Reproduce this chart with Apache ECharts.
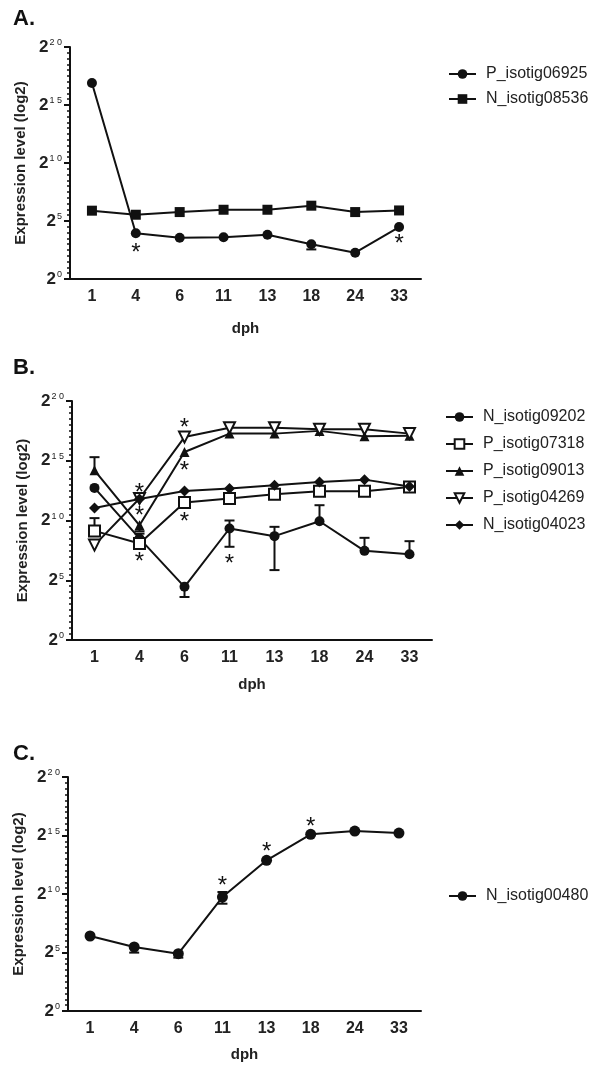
<!DOCTYPE html>
<html>
<head>
<meta charset="utf-8">
<script src="https://cdn.jsdelivr.net/npm/echarts@6/dist/echarts.min.js"></script>
<style>
  html, body { margin: 0; padding: 0; background: #fff; }
  #chart { width: 600px; height: 1073px; }
</style>
</head>
<body>
<div id="chart"></div>
<script>
// x categories (days post hatch) and y ticks (log2 exponents)
const days = ['1', '4', '6', '11', '13', '18', '24', '33'];
const yMin = 0, yMax = 20, yStep = 5;

// panel A
const pIsotig06925 = [16.9, 3.94, 3.56, 3.6, 3.82, 2.99, 2.27, 4.48];
const nIsotig08536 = [5.89, 5.54, 5.77, 5.97, 5.97, 6.32, 5.77, 5.91];
const errA = [[5, 2.99, 2.55]];           // [day index, mean, bar end]
const starsA = [[1, 2.7], [7, 3.5]];

// panel B
const nIsotig09202 = [12.73, 8.5, 4.45, 9.33, 8.69, 9.94, 7.46, 7.18];
const pIsotig07318 = [9.13, 8.07, 11.5, 11.84, 12.2, 12.45, 12.45, 12.81];
const pIsotig09013 = [14.2, 9.6, 15.73, 17.27, 17.27, 17.5, 17.04, 17.1];
const pIsotig04269 = [7.94, 11.84, 16.98, 17.77, 17.77, 17.63, 17.63, 17.27];
const nIsotig04023 = [11.05, 11.8, 12.47, 12.67, 12.95, 13.23, 13.42, 12.85];
const errB = [
  [0, 14.2, 15.3], [0, 9.13, 10.2], [1, 9.6, 9.1], [1, 8.5, 8.9],
  [2, 4.45, 3.6], [3, 9.33, 10.0], [3, 9.33, 7.8], [4, 8.69, 9.47],
  [4, 8.69, 5.85], [5, 9.94, 11.28], [6, 7.46, 8.55], [7, 7.18, 8.27]
];
const starsB = [[1, 12.8], [1, 10.86], [1, 6.96], [2, 18.24], [2, 14.62], [2, 10.36], [3, 6.83]];

// panel C
const nIsotig00480 = [6.41, 5.47, 4.9, 9.74, 12.88, 15.1, 15.38, 15.21];
const errC = [[1, 5.47, 4.99], [2, 4.9, 4.56], [3, 9.74, 10.17], [3, 9.74, 9.17]];
const starsC = [[3, 11.17], [4, 14.08], [5, 16.24]];

const FONT = 'Liberation Sans, Arial, sans-serif';

const grids = [
  { left: 70, top: 47, width: 351, height: 232 },
  { left: 72, top: 401, width: 360, height: 239 },
  { left: 68, top: 777, width: 353, height: 234 }
];

function xAxisFor(i, gap) {
  return {
    type: 'category', gridIndex: i, data: days, boundaryGap: true,
    name: 'dph', nameLocation: 'middle', nameGap: gap,
    nameTextStyle: { fontFamily: FONT, fontSize: 15, fontWeight: 'bold', color: '#222' },
    axisLine: { lineStyle: { color: '#111', width: 2 } },
    axisTick: { alignWithLabel: true, length: 5, lineStyle: { color: '#111', width: 2 } },
    axisLabel: { margin: 10, fontFamily: FONT, fontSize: 16, fontWeight: 'bold', color: '#222' }
  };
}

function yAxisFor(i) {
  return {
    type: 'value', gridIndex: i, min: yMin, max: yMax, interval: yStep,
    name: 'Expression level (log2)', nameLocation: 'middle', nameGap: 40,
    nameTextStyle: { fontFamily: FONT, fontSize: 15, fontWeight: 'bold', color: '#222' },
    axisLine: { show: true, lineStyle: { color: '#111', width: 2 } },
    axisTick: { show: true, length: 6, lineStyle: { color: '#111', width: 2 } },
    minorTick: { show: true, splitNumber: 10, length: 3, lineStyle: { color: '#111', width: 1.5 } },
    splitLine: { show: false },
    axisLabel: {
      margin: 8,
      formatter: v => '{b|2}{s|' + String(v).split('').join(' ') + '}',
      rich: {
        b: { fontFamily: FONT, fontSize: 17, fontWeight: 'bold', color: '#222' },
        s: { fontFamily: FONT, fontSize: 9, color: '#222', verticalAlign: 'top', padding: [0, 0, 8, 1] }
      }
    }
  };
}

function lineSeries(name, data, i, symbol, opts) {
  const o = opts || {};
  return {
    name: name, type: 'line', xAxisIndex: i, yAxisIndex: i, data: data,
    symbol: symbol, symbolSize: o.size || 10, symbolRotate: o.rotate || 0,
    lineStyle: { color: '#111', width: 2 },
    itemStyle: o.open
      ? { color: '#fff', borderColor: '#111', borderWidth: 2 }
      : { color: '#111', borderColor: '#111', borderWidth: 0 },
    z: 3, emphasis: { disabled: true }
  };
}

function errorSeries(data, i) {
  return {
    type: 'custom', xAxisIndex: i, yAxisIndex: i, data: data, z: 2, silent: true,
    renderItem: (params, api) => {
      const p0 = api.coord([api.value(0), api.value(1)]);
      const p1 = api.coord([api.value(0), api.value(2)]);
      const st = { stroke: '#111', lineWidth: 2 };
      return {
        type: 'group', children: [
          { type: 'line', shape: { x1: p0[0], y1: p0[1], x2: p1[0], y2: p1[1] }, style: st },
          { type: 'line', shape: { x1: p1[0] - 5, y1: p1[1], x2: p1[0] + 5, y2: p1[1] }, style: st }
        ]
      };
    }
  };
}

function starSeries(data, i) {
  return {
    type: 'custom', xAxisIndex: i, yAxisIndex: i, data: data, z: 4, silent: true,
    renderItem: (params, api) => {
      const p = api.coord([api.value(0), api.value(1)]);
      return {
        type: 'text', x: p[0], y: p[1] + 6,
        style: { text: '*', fontFamily: FONT, fontSize: 24, fill: '#111', align: 'center', verticalAlign: 'middle' }
      };
    }
  };
}

function legendFor(names, left, top, gap) {
  return {
    data: names, orient: 'vertical', left: left, top: top, itemGap: gap, padding: 0,
    itemWidth: 27, itemHeight: 12, selectedMode: false,
    textStyle: { fontFamily: FONT, fontSize: 16, color: '#222', padding: [0, 0, 0, 5] }
  };
}

const chart = echarts.init(document.getElementById('chart'));
chart.setOption({
  animation: false,
  backgroundColor: '#fff',
  title: [
    { text: 'A.', left: 8, top: 3 },
    { text: 'B.', left: 8, top: 352 },
    { text: 'C.', left: 8, top: 738 }
  ].map(t => Object.assign(t, { textStyle: { fontFamily: FONT, fontSize: 22, fontWeight: 'bold', color: '#111' } })),
  legend: [
    legendFor(['P_isotig06925', 'N_isotig08536'], 448, 66, 9),
    legendFor(['N_isotig09202', 'P_isotig07318', 'P_isotig09013', 'P_isotig04269', 'N_isotig04023'], 445, 409, 11),
    legendFor(['N_isotig00480'], 448, 888, 8)
  ],
  grid: grids,
  xAxis: [xAxisFor(0, 42), xAxisFor(1, 37), xAxisFor(2, 36)],
  yAxis: [yAxisFor(0), yAxisFor(1), yAxisFor(2)],
  series: [
    errorSeries(errA, 0),
    lineSeries('P_isotig06925', pIsotig06925, 0, 'circle'),
    lineSeries('N_isotig08536', nIsotig08536, 0, 'rect'),
    starSeries(starsA, 0),

    errorSeries(errB, 1),
    lineSeries('N_isotig09202', nIsotig09202, 1, 'circle'),
    lineSeries('P_isotig07318', pIsotig07318, 1, 'rect', { open: true, size: 11 }),
    lineSeries('P_isotig09013', pIsotig09013, 1, 'triangle'),
    lineSeries('P_isotig04269', pIsotig04269, 1, 'triangle', { open: true, rotate: 180, size: 11 }),
    lineSeries('N_isotig04023', nIsotig04023, 1, 'diamond', { size: 11 }),
    starSeries(starsB, 1),

    errorSeries(errC, 2),
    lineSeries('N_isotig00480', nIsotig00480, 2, 'circle', { size: 11 }),
    starSeries(starsC, 2)
  ]
});
</script>
</body>
</html>
